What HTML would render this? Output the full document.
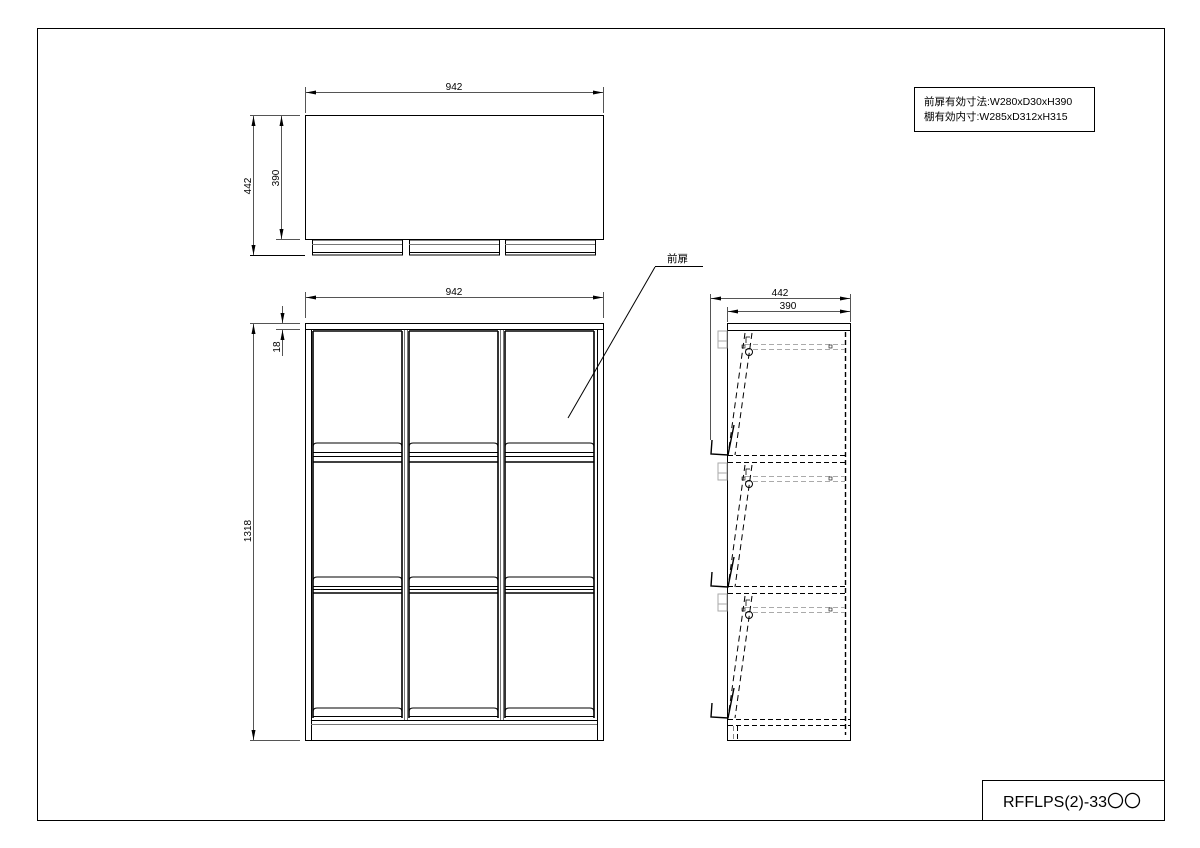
<!DOCTYPE html>
<html><head><meta charset="utf-8"><style>
html,body{margin:0;padding:0;background:#fff;width:1200px;height:848px;overflow:hidden}
svg{display:block}
text{font-family:"Liberation Sans","Noto Sans CJK JP",sans-serif;fill:#000}
</style></head><body>
<svg width="1200" height="848" viewBox="0 0 1200 848" xmlns="http://www.w3.org/2000/svg">
<defs>
<marker id="a" viewBox="0 0 10 4" refX="10" refY="2" markerWidth="10" markerHeight="4" orient="auto-start-reverse" markerUnits="userSpaceOnUse"><path d="M0,0 L10,2 L0,4z" fill="#000"/></marker>
</defs>
<g fill="none" stroke="#000" stroke-width="1">
<rect x="37.5" y="28.5" width="1127" height="792"/>
<rect x="982.5" y="780.5" width="182" height="40"/>
<rect x="914.5" y="87.5" width="180" height="44"/>

<!-- TOP VIEW -->
<rect x="305.5" y="115.5" width="298" height="124"/>
<g stroke="#555">
<line x1="305.5" y1="87" x2="305.5" y2="113"/><line x1="603.5" y1="87" x2="603.5" y2="113"/>
<line x1="306" y1="92.5" x2="603" y2="92.5" marker-start="url(#a)" marker-end="url(#a)"/>
<line x1="250" y1="115.5" x2="300" y2="115.5"/>
<line x1="276" y1="239.5" x2="300" y2="239.5"/>
<line x1="250" y1="255.5" x2="305" y2="255.5" stroke="#000"/>
<line x1="253.5" y1="116" x2="253.5" y2="255" marker-start="url(#a)" marker-end="url(#a)"/>
<line x1="281.5" y1="116" x2="281.5" y2="239" marker-start="url(#a)" marker-end="url(#a)"/>
</g>
<g>
<rect x="312.5" y="240" width="90" height="15"/><line x1="312" y1="244.5" x2="402" y2="244.5" stroke="#777"/><line x1="312" y1="252.5" x2="402" y2="252.5"/>
<rect x="409.5" y="240" width="90" height="15"/><line x1="409" y1="244.5" x2="499" y2="244.5" stroke="#777"/><line x1="409" y1="252.5" x2="499" y2="252.5"/>
<rect x="505.5" y="240" width="90" height="15"/><line x1="505" y1="244.5" x2="595" y2="244.5" stroke="#777"/><line x1="505" y1="252.5" x2="595" y2="252.5"/>
</g>

<!-- FRONT VIEW -->
<g stroke="#555">
<line x1="305.5" y1="292" x2="305.5" y2="318"/><line x1="603.5" y1="292" x2="603.5" y2="318"/>
<line x1="306" y1="297.5" x2="603" y2="297.5" marker-start="url(#a)" marker-end="url(#a)"/>
<line x1="250" y1="323.5" x2="300" y2="323.5"/>
<line x1="276" y1="329.5" x2="300" y2="329.5"/>
<line x1="250" y1="740.5" x2="300" y2="740.5"/>
<line x1="253.5" y1="324" x2="253.5" y2="740" marker-start="url(#a)" marker-end="url(#a)"/>
<line x1="282.5" y1="306" x2="282.5" y2="323" marker-end="url(#a)"/>
<line x1="282.5" y1="356" x2="282.5" y2="330" marker-end="url(#a)"/>
</g>
<rect x="305.5" y="323.5" width="298" height="417"/>
<line x1="305" y1="329.5" x2="603" y2="329.5"/>
<line x1="311.5" y1="330" x2="311.5" y2="740"/>
<line x1="597.5" y1="330" x2="597.5" y2="740"/>
<line x1="311" y1="720.5" x2="597" y2="720.5"/>
<line x1="311" y1="724.5" x2="597" y2="724.5" stroke="#777"/>
<g id="col">
<g stroke-width="1.6">
<line x1="313" y1="331" x2="313" y2="718"/><line x1="402" y1="331" x2="402" y2="718"/>
<line x1="313" y1="331" x2="402" y2="331"/>
<line x1="313" y1="462" x2="402" y2="462"/>
<line x1="313" y1="593" x2="402" y2="593"/>
</g>
<path d="M313,447 Q313,443 317,443 L398,443 Q402,443 402,447"/><line x1="313" y1="452.5" x2="402" y2="452.5"/><line x1="313" y1="456.5" x2="402" y2="456.5"/>
<path d="M313,581 Q313,577 317,577 L398,577 Q402,577 402,581"/><line x1="313" y1="586.5" x2="402" y2="586.5"/><line x1="313" y1="589.5" x2="402" y2="589.5"/>
<path d="M313,712 Q313,708 317,708 L398,708 Q402,708 402,712"/><line x1="313" y1="716.5" x2="402" y2="716.5"/>
</g>
<use href="#col" x="96"/>
<use href="#col" x="192"/>
<line x1="404.5" y1="330" x2="404.5" y2="720" stroke="#777"/><line x1="407.5" y1="330" x2="407.5" y2="720" stroke="#777"/>
<line x1="500.5" y1="330" x2="500.5" y2="720" stroke="#777"/><line x1="503.5" y1="330" x2="503.5" y2="720" stroke="#777"/>

<line x1="655" y1="266.5" x2="703" y2="266.5"/>
<line x1="655" y1="267" x2="568" y2="418"/>

<!-- SIDE VIEW -->
<g stroke="#555">
<line x1="710.5" y1="294" x2="710.5" y2="440"/>
<line x1="850.5" y1="294" x2="850.5" y2="322"/>
<line x1="727.5" y1="307" x2="727.5" y2="322"/>
<line x1="711" y1="298.5" x2="850" y2="298.5" marker-start="url(#a)" marker-end="url(#a)"/>
<line x1="728" y1="311.5" x2="850" y2="311.5" marker-start="url(#a)" marker-end="url(#a)"/>
</g>
<rect x="727.5" y="323.5" width="123" height="417"/>
<line x1="727" y1="330.5" x2="850" y2="330.5"/>
<g stroke-dasharray="5,3">
<line x1="845.5" y1="332" x2="845.5" y2="735" stroke-width="1.4"/>
<line x1="728" y1="455.5" x2="845" y2="455.5"/><line x1="728" y1="462.5" x2="845" y2="462.5"/>
<line x1="728" y1="586.5" x2="845" y2="586.5"/><line x1="728" y1="593.5" x2="845" y2="593.5"/>
<line x1="728" y1="719.5" x2="850" y2="719.5"/><line x1="728" y1="725.5" x2="850" y2="725.5"/>
<line x1="733.5" y1="726" x2="733.5" y2="740" stroke="#888"/>
<line x1="737.5" y1="726" x2="737.5" y2="740"/>
</g>
<g id="sd">
<g stroke="#aaa"><rect x="718" y="331" width="9" height="17"/><line x1="718" y1="341" x2="727" y2="341"/></g>
<g stroke="#aaa" stroke-dasharray="5,3"><line x1="745" y1="344.5" x2="845" y2="344.5"/><line x1="745" y1="349.5" x2="845" y2="349.5"/></g>
<g stroke-dasharray="6,4"><line x1="745" y1="333" x2="728" y2="455"/><line x1="752" y1="333" x2="735" y2="455"/></g>
<path d="M746,343 l0,-6 l4,0" stroke-width="0.8"/>
<circle cx="749" cy="352" r="3.5"/>
<rect x="742" y="345" width="3" height="3" stroke-width="0.6"/>
<rect x="829" y="345" width="3" height="3" stroke-width="0.6"/>
<path d="M712,440 l-1,14 l17,1 l6,-30" stroke-width="1.4"/>
</g>
<use href="#sd" y="132"/>
<use href="#sd" y="263"/>
</g>

<g font-size="10">
<text x="454" y="90" text-anchor="middle">942</text>
<text x="454" y="295" text-anchor="middle">942</text>
<text x="780" y="296" text-anchor="middle">442</text>
<text x="788" y="309" text-anchor="middle">390</text>
<text transform="translate(251,186) rotate(-90)" text-anchor="middle">442</text>
<text transform="translate(279,178) rotate(-90)" text-anchor="middle">390</text>
<text transform="translate(251,531) rotate(-90)" text-anchor="middle">1318</text>
<text transform="translate(280,347) rotate(-90)" text-anchor="middle">18</text>
<text x="667" y="262" font-size="10.5">前扉</text>
<text x="924" y="105" font-size="10.5">前扉有効寸法:W280xD30xH390</text>
<text x="924" y="120" font-size="10.5">棚有効内寸:W285xD312xH315</text>
</g>
<text x="1072" y="807" font-size="16" text-anchor="middle">RFFLPS(2)-33<tspan font-family="'Noto Sans CJK JP',sans-serif" font-size="17">〇〇</tspan></text>
</svg>
</body></html>
